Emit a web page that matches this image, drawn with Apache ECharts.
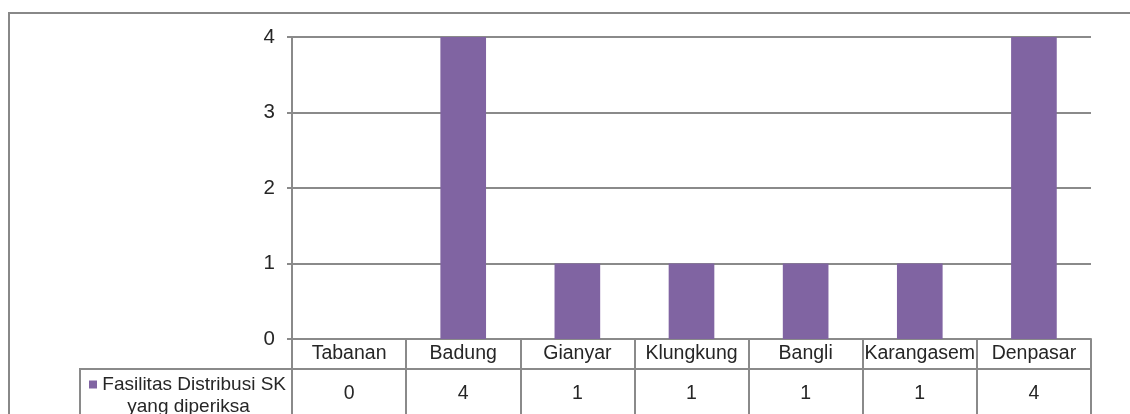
<!DOCTYPE html>
<html>
<head>
<meta charset="utf-8">
<script src="https://cdn.jsdelivr.net/npm/echarts@6/dist/echarts.min.js"></script>
<style>
html,body{margin:0;padding:0;background:#fff;overflow:hidden;}
#frame{position:absolute;left:8px;top:12px;width:2000px;height:1000px;border-left:2px solid #888;border-top:2px solid #888;}
#chart{position:absolute;left:0;top:0;width:1130px;height:414px;}
</style>
</head>
<body>
<div id="frame"></div>
<div id="chart"></div>
<script>
const categories = ['Tabanan','Badung','Gianyar','Klungkung','Bangli','Karangasem','Denpasar'];
const seriesName = 'Fasilitas Distribusi SK yang diperiksa';
const values = [0, 4, 1, 1, 1, 1, 4];
const yTicks = [0, 1, 2, 3, 4];

const FONT = '"Liberation Sans", Arial, sans-serif';
const GRAY = '#8a8a8a';
const TXT = '#262626';

const chart = echarts.init(document.getElementById('chart'), null, {renderer:'canvas'});
chart.setOption({
  animation: false,
  textStyle: {fontFamily: FONT},
  grid: {left: 292, right: 39, top: 37, bottom: 75, containLabel: false},
  legend: {
    show: true,
    left: 80,
    top: 369,
    orient: 'vertical',
    icon: 'none',
    itemWidth: 0,
    itemHeight: 8,
    itemGap: 0,
    padding: [6, 4, 30, 4],
    borderColor: GRAY,
    borderWidth: 2,
    selectedMode: false,
    data: [seriesName],
    formatter: function () {
      return '{sq|}{a| Fasilitas Distribusi SK}\n{b|yang diperiksa}';
    },
    textStyle: {
      fontFamily: FONT,
      fontSize: 19,
      color: TXT,
      rich: {
        sq: {backgroundColor: '#8064A2', width: 8, height: 8, lineHeight: 22},
        a: {fontSize: 19, lineHeight: 22, color: TXT, fontFamily: FONT},
        b: {fontSize: 19, lineHeight: 22, color: TXT, fontFamily: FONT, width: 199, align: 'center'}
      }
    }
  },
  xAxis: [
    {
      type: 'category',
      data: categories,
      position: 'bottom',
      boundaryGap: true,
      axisLine: {show: true, lineStyle: {color: GRAY, width: 2}},
      axisTick: {show: true, interval: 0, length: 90, alignWithLabel: false, lineStyle: {color: GRAY, width: 2}},
      axisLabel: {show: true, interval: 0, margin: 5, fontSize: 19.5, color: TXT, fontFamily: FONT},
      splitLine: {show: false}
    },
    {
      type: 'category',
      data: categories,
      position: 'bottom',
      offset: 30,
      boundaryGap: true,
      axisLine: {show: true, lineStyle: {color: GRAY, width: 2}},
      axisTick: {show: false},
      axisLabel: {
        show: true, interval: 0, margin: 15, fontSize: 19.5, color: TXT, fontFamily: FONT,
        formatter: function (v, i) { return String(values[i]); }
      },
      splitLine: {show: false}
    }
  ],
  yAxis: {
    type: 'value',
    min: yTicks[0],
    max: yTicks[yTicks.length - 1],
    interval: 1,
    axisLine: {show: true, lineStyle: {color: GRAY, width: 2}},
    axisTick: {show: true, length: 5, lineStyle: {color: GRAY, width: 2}},
    axisLabel: {show: true, margin: 17, fontSize: 20.5, color: TXT, fontFamily: FONT},
    splitLine: {show: true, lineStyle: {color: GRAY, width: 2}}
  },
  series: [{
    name: seriesName,
    type: 'bar',
    xAxisIndex: 0,
    data: values,
    barWidth: '40%',
    itemStyle: {color: '#8064A2'}
  }]
});
</script>
</body>
</html>
